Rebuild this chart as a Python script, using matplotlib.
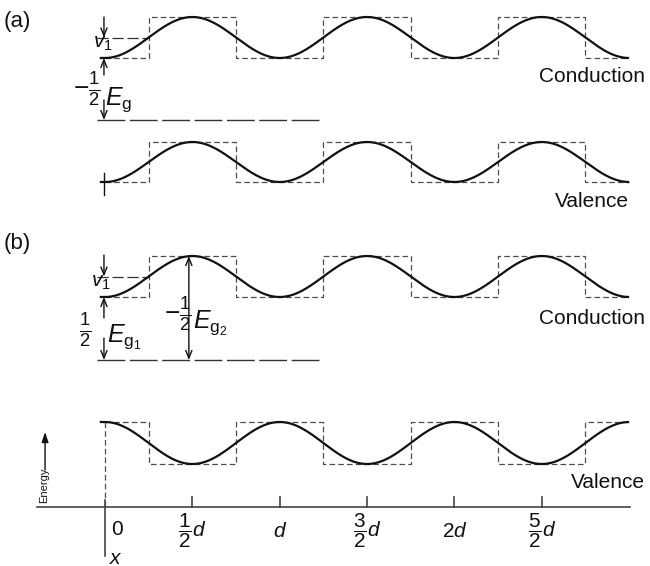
import numpy as np
import matplotlib
matplotlib.use("Agg")
import matplotlib.pyplot as plt

plt.rcParams["font.family"] = ["Liberation Sans", "DejaVu Sans"]
plt.rcParams["mathtext.fontset"] = "custom"
plt.rcParams["mathtext.rm"] = "Liberation Sans"
plt.rcParams["mathtext.it"] = "Liberation Sans:italic"
plt.rcParams["mathtext.bf"] = "Liberation Sans:bold"

# Position along the chain, in units of the lattice period d
x_ticks = [0.0, 0.5, 1.0, 1.5, 2.0, 2.5]
x_tick_labels = ["0", r"$\dfrac{1}{2}d$", r"$d$", r"$\dfrac{3}{2}d$",
                 r"$2d$", r"$\dfrac{5}{2}d$"]
x_end = 3.0

# Band edges (energy in drawing units). phase -1: minimum at x = 0
band_panel = ["a", "a", "b", "b"]
band_names = ["Conduction", "Valence", "Conduction", "Valence"]
band_centers = [528.5, 404.0, 289.5, 123.0]
band_swing = [20.5, 20.0, 20.5, 21.0]
band_phase = [-1, -1, -1, 1]

# Reference level of the gap in each panel and the position axis
gap_levels = {"a": 446.0, "b": 206.0}
axis_level = 59.5

INK = "#111111"
BOX = "#4d4d4d"

fig = plt.figure(figsize=(6.5, 5.66), dpi=100)
ax = fig.add_axes([0, 0, 1, 1])
ax.set_xlim(-0.601, 3.1196)
ax.set_ylim(0, 566)
ax.axis("off")

xs = np.linspace(0.0, x_end, 1200)
for c, a, ph in zip(band_centers, band_swing, band_phase):
    # smooth band edge
    curve = c + ph * a * np.cos(2 * np.pi * xs)
    ax.plot(np.r_[-0.03, xs], np.r_[curve[0], curve], color=INK, lw=1.6,
            solid_capstyle="butt", zorder=3)
    # square-well potential drawn as a step profile
    edges = np.arange(0.25, x_end, 0.5)
    bounds = np.r_[0.0, edges, x_end]
    sx, sy = [], []
    for i in range(len(bounds) - 1):
        mid = 0.5 * (bounds[i] + bounds[i + 1])
        lvl = c + ph * a * np.sign(np.cos(2 * np.pi * mid))
        sx += [bounds[i], bounds[i + 1]]
        sy += [lvl, lvl]
    ax.plot(sx, sy, color=BOX, lw=0.9, linestyle=(0, (4.5, 2.5)), zorder=2)

# mid-band reference lines for v1
for c in (band_centers[0], band_centers[2]):
    ax.plot([-0.046, 0.25], [c, c], color="#333333", lw=0.9,
            linestyle=(0, (9, 3)), zorder=2)

# gap reference lines
for lvl in gap_levels.values():
    ax.plot([-0.046, 1.242], [lvl, lvl], color="#333333", lw=1.0,
            linestyle=(0, (20, 3.3)), zorder=2)


def arrow(x, y0, y1, style="->"):
    ax.annotate("", xy=(x, y1), xytext=(x, y0),
                arrowprops=dict(arrowstyle=style + ",head_length=0.55,head_width=0.22",
                                color=INK, lw=1.0, shrinkA=0, shrinkB=0,
                                mutation_scale=10))


# panel (a) annotations
ca, aa = band_centers[0], band_swing[0]
arrow(-0.006, ca + aa, ca)
arrow(-0.006, ca - aa - 17, ca - aa)
arrow(-0.006, gap_levels["a"] + 20, gap_levels["a"])
ax.plot([-0.006, -0.006], [393, 371], color=INK, lw=1.0)

# panel (b) annotations
cb, ab = band_centers[2], band_swing[2]
arrow(-0.006, cb + ab + 1, cb)
arrow(-0.006, cb - ab - 21, cb - ab)
arrow(-0.006, gap_levels["b"] + 22, gap_levels["b"])
ax.annotate("", xy=(0.48, cb + ab), xytext=(0.48, gap_levels["b"]),
            arrowprops=dict(arrowstyle="<->,head_length=0.55,head_width=0.22",
                            color=INK, lw=1.0, shrinkA=0, shrinkB=0,
                            mutation_scale=10))

# panel letters
ax.text(-0.578, 545, "(a)", fontsize=16, ha="left", va="center", color=INK)
ax.text(-0.578, 322, "(b)", fontsize=16, ha="left", va="center", color=INK)

# band names
ax.text(3.091, 484, band_names[0], fontsize=15, ha="right", va="baseline", color=INK)
ax.text(2.996, 359, band_names[1], fontsize=15, ha="right", va="baseline", color=INK)
ax.text(3.091, 242, band_names[2], fontsize=15, ha="right", va="baseline", color=INK)
ax.text(3.091, 78, band_names[3], fontsize=15, ha="right", va="baseline", color=INK)

# math labels
ax.text(-0.011, 518, r"$v_1$", fontsize=15, ha="center", va="baseline", color=INK)
ax.text(-0.103, 476.5, r"$-\frac{1}{2}$", fontsize=19, ha="center", va="center", color=INK)
ax.text(0.0, 461, r"$E_\mathrm{g}$", fontsize=18, ha="left", va="baseline", color=INK)

ax.text(-0.023, 279, r"$v_1$", fontsize=15, ha="center", va="baseline", color=INK)
ax.text(-0.114, 235, r"$\frac{1}{2}$", fontsize=19, ha="center", va="center", color=INK)
ax.text(0.011, 224, r"$E_{\mathrm{g}_1}$", fontsize=18, ha="left", va="baseline", color=INK)
ax.text(0.418, 251, r"$-\frac{1}{2}$", fontsize=19, ha="center", va="center", color=INK)
ax.text(0.504, 238, r"$E_{\mathrm{g}_2}$", fontsize=18, ha="left", va="baseline", color=INK)

# position axis
AX = "#444444"
ax.plot([-0.389, 3.005], [axis_level, axis_level], color=AX, lw=1.2)
for t in x_ticks[1:]:
    ax.plot([t, t], [axis_level, axis_level + 9.5], color=AX, lw=1.2)
ax.plot([0, 0], [66, 10], color=AX, lw=1.2)
ax.plot([0, 0], [band_centers[3] + band_swing[3], axis_level], color=BOX, lw=0.9,
        linestyle=(0, (4.5, 2.5)))
for t, lab in zip(x_ticks, x_tick_labels):
    if t == 0:
        ax.text(t + 0.069, 31, lab, fontsize=15, ha="center", va="baseline", color=INK)
    else:
        ax.text(t, 29, lab, fontsize=15, ha="center", va="baseline", color=INK)
ax.text(0.063, 2.5, r"$x$", fontsize=15, ha="center", va="baseline", color=INK)

# energy direction
ax.annotate("", xy=(-0.343, 134), xytext=(-0.343, 96),
            arrowprops=dict(arrowstyle="-|>,head_length=0.6,head_width=0.2",
                            color=INK, lw=1.0, shrinkA=0, shrinkB=0,
                            mutation_scale=10))
ax.text(-0.349, 81, "Energy", fontsize=8, rotation=90, ha="center", va="center", color=INK)

fig.savefig("out.png", dpi=100)
